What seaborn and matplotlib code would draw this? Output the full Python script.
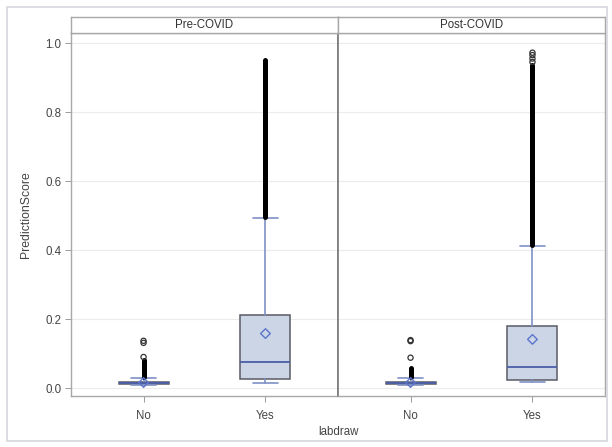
import matplotlib
matplotlib.use("Agg")
import matplotlib.pyplot as plt
import seaborn as sns
import pandas as pd
from matplotlib.patches import Rectangle

# ---------------- data ----------------
periods = ["Pre-COVID", "Post-COVID"]
labdraw = ["No", "Yes"]

pre_q1 = [0.012, 0.025]
pre_med = [0.014, 0.076]
pre_q3 = [0.018, 0.211]
pre_mean = [0.016, 0.158]
pre_wlo = [0.010, 0.015]
pre_whi = [0.030, 0.492]
pre_dense_lo = [0.032, 0.497]
pre_dense_hi = [0.082, 0.951]
pre_out_no = [0.137, 0.131, 0.090]
pre_out_yes = []

post_q1 = [0.012, 0.023]
post_med = [0.014, 0.062]
post_q3 = [0.018, 0.180]
post_mean = [0.016, 0.141]
post_wlo = [0.010, 0.017]
post_whi = [0.030, 0.412]
post_dense_lo = [0.032, 0.416]
post_dense_hi = [0.058, 0.935]
post_out_no = [0.139, 0.136, 0.088]
post_out_yes = [0.945, 0.955, 0.965, 0.972]

yticks = [0.0, 0.2, 0.4, 0.6, 0.8, 1.0]
ytick_labels = ["0.0", "0.2", "0.4", "0.6", "0.8", "1.0"]

stats_by_period = {
    "Pre-COVID": dict(q1=pre_q1, med=pre_med, q3=pre_q3, mean=pre_mean,
                      wlo=pre_wlo, whi=pre_whi, dlo=pre_dense_lo, dhi=pre_dense_hi,
                      out=[pre_out_no, pre_out_yes]),
    "Post-COVID": dict(q1=post_q1, med=post_med, q3=post_q3, mean=post_mean,
                       wlo=post_wlo, whi=post_whi, dlo=post_dense_lo, dhi=post_dense_hi,
                       out=[post_out_no, post_out_yes]),
}

# ---------------- style ----------------
sns.set_theme(style="white")
plt.rcParams["font.family"] = ["Liberation Sans", "DejaVu Sans"]

box_fill = "#cbd5e6"
box_edge = "#5a5a66"
med_col = "#4a5ea8"
whisk_col = "#7f90c6"
mean_col = "#5b75cc"
tick_col = "#444444"
frame_col = "#a8a8a8"
fs = 8.3

fig = plt.figure(figsize=(6.12, 4.47), dpi=100)
fig.patch.set_facecolor("white")
fig.add_artist(Rectangle((7 / 612, 6 / 447), 600 / 612, 434 / 447, transform=fig.transFigure,
                         fill=False, edgecolor="#d6d7de", linewidth=1.2))

left, mid, right = 71 / 612, 338 / 612, 605 / 612
bottom, top, strip_top = 1 - 396 / 447, 1 - 33 / 447, 1 - 17 / 447

axes = [fig.add_axes([left, bottom, mid - left, top - bottom]),
        fig.add_axes([mid, bottom, right - mid, top - bottom])]

for i, (ax, period) in enumerate(zip(axes, periods)):
    s = stats_by_period[period]
    positions = list(range(len(labdraw)))
    bstats = []
    for j in positions:
        bstats.append(dict(med=s["med"][j], q1=s["q1"][j], q3=s["q3"][j],
                           whislo=s["wlo"][j], whishi=s["whi"][j], fliers=[], label=labdraw[j]))
    for y in yticks:
        ax.axhline(y, color="#ececec", linewidth=0.8, zorder=0)

    ax.bxp(bstats, positions=positions, widths=0.41, patch_artist=True, showfliers=False,
           boxprops=dict(facecolor=box_fill, edgecolor=box_edge, linewidth=1.1),
           medianprops=dict(color=med_col, linewidth=1.3),
           whiskerprops=dict(color=whisk_col, linewidth=1.2),
           capprops=dict(color=whisk_col, linewidth=1.2),
           capwidths=0.2, zorder=2)

    # dense outlier runs
    ax.vlines(positions, s["dlo"], s["dhi"], color="black", linewidth=3.6,
              capstyle="round", zorder=3)

    # individual outliers
    ox, oy = [], []
    for j in positions:
        for v in s["out"][j]:
            ox.append(j)
            oy.append(v)
    if ox:
        dfo = pd.DataFrame({"x": ox, "y": oy})
        sns.scatterplot(data=dfo, x="x", y="y", ax=ax, s=14, marker="o",
                        facecolor="none", edgecolor="#333333", linewidth=0.9, zorder=4,
                        legend=False)

    # means
    dfm = pd.DataFrame({"x": positions, "y": s["mean"]})
    sns.scatterplot(data=dfm, x="x", y="y", ax=ax, s=24, marker="D",
                    facecolor="none", edgecolor=mean_col, linewidth=1.0, zorder=5, legend=False)

    ax.set_xlim(-0.595, 1.595)
    ax.set_ylim(-0.023, 1.029)
    ax.set_xticks(positions)
    ax.set_xticklabels(labdraw, fontsize=fs, color=tick_col)
    ax.set_xlabel("")
    ax.set_ylabel("")
    ax.set_facecolor("white")
    ax.tick_params(axis="x", length=4, width=0.7, color="#999999", direction="out", pad=6, bottom=True)
    if i == 0:
        ax.set_yticks(yticks)
        ax.set_yticklabels(ytick_labels, fontsize=fs, color=tick_col)
        ax.tick_params(axis="y", length=4, width=0.7, color="#999999", direction="out", left=True, pad=3)
    else:
        ax.set_yticks(yticks)
        ax.set_yticklabels([])
        ax.tick_params(axis="y", length=0, left=False)
    for side, sp in ax.spines.items():
        sp.set_visible(True)
        sp.set_color(frame_col)
        sp.set_linewidth(1.0)
    if i == 0:
        ax.spines["right"].set_color("#808080")
        ax.spines["right"].set_linewidth(1.3)
    else:
        ax.spines["left"].set_color("#808080")
        ax.spines["left"].set_linewidth(1.3)

    # strip header
    x0 = left if i == 0 else mid
    x1 = mid if i == 0 else right
    sax = fig.add_axes([x0, top, x1 - x0, strip_top - top])
    sax.set_xticks([])
    sax.set_yticks([])
    sax.set_facecolor("white")
    for sp in sax.spines.values():
        sp.set_color(frame_col)
        sp.set_linewidth(1.0)
    sax.text(0.5, 0.5, period, ha="center", va="center", fontsize=fs, color="#333333",
             transform=sax.transAxes)

fig.text((left + right) / 2, 1 - 432 / 447, "labdraw", ha="center", va="center",
         fontsize=fs, color=tick_col)
fig.text(26 / 612, (bottom + top) / 2, "PredictionScore", ha="center", va="center",
         rotation=90, fontsize=fs + 0.5, color=tick_col)

fig.savefig("out.png", dpi=100, facecolor="white")
